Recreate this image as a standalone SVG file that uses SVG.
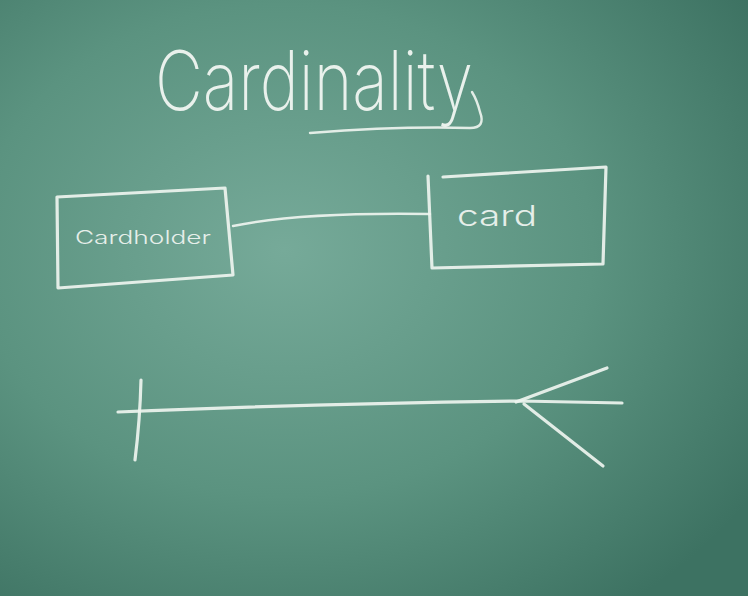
<svg xmlns="http://www.w3.org/2000/svg" width="748" height="596" viewBox="0 0 748 596">
  <defs>
    <radialGradient id="board" cx="0.38" cy="0.42" r="0.75">
      <stop offset="0" stop-color="#76aa99"/>
      <stop offset="0.55" stop-color="#5b9380"/>
      <stop offset="1" stop-color="#3d7262"/>
    </radialGradient>
    <style>
      .chalk { fill: none; stroke: #eef4ef; stroke-width: 3.2; stroke-linecap: round; stroke-linejoin: round; opacity: 0.92; }
      .thin { stroke-width: 2.4; }
      .label { fill: #f1f6f2; font-family: Inter, Roboto, "Liberation Sans", sans-serif; font-weight: 300; opacity: 0.92; }
      .title { fill: #f1f6f2; font-family: Inter, Roboto, "Open Sans", sans-serif; font-weight: 200; opacity: 0.95; }
    </style>
  </defs>
  <rect x="0" y="0" width="748" height="596" fill="url(#board)"/>

  <g id="title">
    <text class="title" x="155" y="110" font-size="82" textLength="318" lengthAdjust="spacingAndGlyphs">Cardinality</text>
    <path class="chalk thin" d="M310 133 Q400 126 470 128 Q486 128 480 112 Q477 100 472 92"/>
  </g>

  <g id="cardholder">
    <path class="chalk" d="M57 197 L225 188 L233 275 L58 288 Z"/>
    <text class="label" x="75" y="244" font-size="18" textLength="136" lengthAdjust="spacingAndGlyphs">Cardholder</text>
  </g>

  <g id="card">
    <path class="chalk" d="M443 177 L606 167 L603 264 L432 268 M428 176 L432 268"/>
    <text class="label" x="457" y="226" font-size="28" textLength="80" lengthAdjust="spacingAndGlyphs">card</text>
  </g>

  <g id="connectors">
    <path class="chalk thin" d="M233 226 Q300 212 430 214"/>
  </g>

  <g id="notation">
    <path class="chalk" d="M118 412 Q300 404 520 401 L622 403"/>
    <path class="chalk" d="M141 380 Q140 420 135 460"/>
    <path class="chalk" d="M516 402 L607 368"/>
    <path class="chalk" d="M524 404 L603 466"/>
  </g>
</svg>
